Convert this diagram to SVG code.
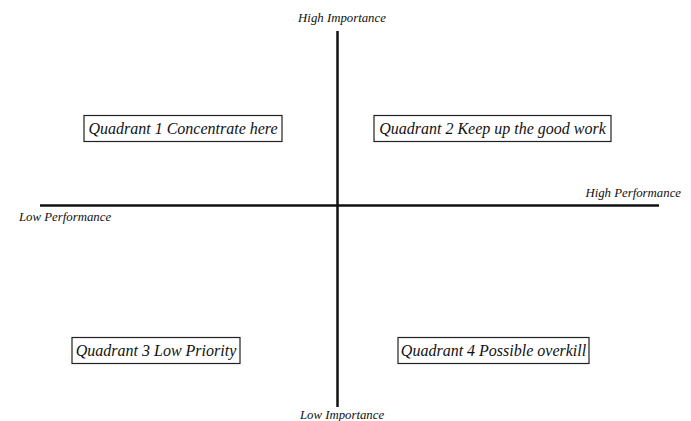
<svg xmlns="http://www.w3.org/2000/svg" width="691" height="421" viewBox="0 0 691 421">
<style>
.axis{stroke:#111;stroke-width:2.5;fill:none}
.box{fill:#fff;stroke:#222;stroke-width:1.2}
.lbl{font-family:"Liberation Serif",serif;font-style:italic;font-size:12.8px;fill:#111}
.q{font-family:"Liberation Serif",serif;font-style:italic;font-size:16px;fill:#111;text-anchor:middle}
</style>
<rect width="691" height="421" fill="#fff"/>
<g id="connectors">
<line class="axis" x1="337.5" y1="31" x2="337.5" y2="407"/>
<line class="axis" x1="40" y1="205.5" x2="659" y2="205.5"/>
</g>
<g id="high-importance"><text class="lbl" x="342" y="22" text-anchor="middle">High Importance</text></g>
<g id="low-importance"><text class="lbl" x="342" y="419" text-anchor="middle">Low Importance</text></g>
<g id="low-performance"><text class="lbl" x="19" y="221">Low Performance</text></g>
<g id="high-performance"><text class="lbl" x="681" y="197" text-anchor="end">High Performance</text></g>
<g id="q1"><rect class="box" x="84" y="115.5" width="198" height="26"/><text class="q" x="183" y="134">Quadrant 1 Concentrate here</text></g>
<g id="q2"><rect class="box" x="374" y="115.5" width="237" height="26"/><text class="q" x="492.5" y="134">Quadrant 2 Keep up the good work</text></g>
<g id="q3"><rect class="box" x="72" y="337.5" width="168" height="26"/><text class="q" x="156" y="356">Quadrant 3 Low Priority</text></g>
<g id="q4"><rect class="box" x="398" y="337.5" width="191" height="26"/><text class="q" x="493.5" y="356">Quadrant 4 Possible overkill</text></g>
</svg>
